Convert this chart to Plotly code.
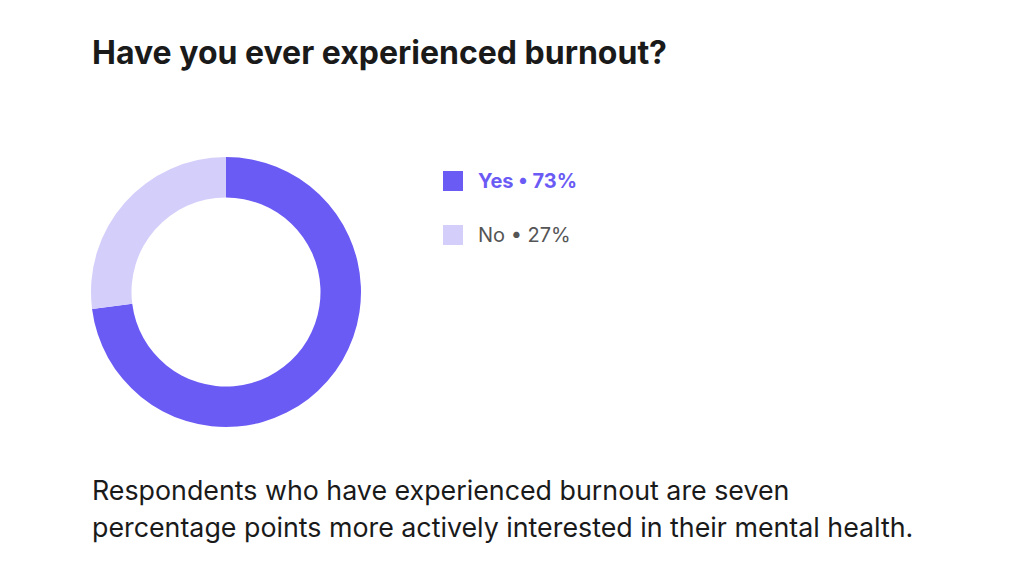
import plotly.graph_objects as go

# survey answers
labels = ["Yes", "No"]
shares = [73, 27]
colours = ["#6B5BF5", "#D4CEFB"]

title_text = "Have you ever experienced burnout?"
caption_lines = [
    "Respondents who have experienced burnout are seven",
    "percentage points more actively interested in their mental health.",
]

W, H = 1024, 586
OFF = 8  # page body margin, pulls everything back to the reference spot


def px(x):
    return (x - OFF) / W


def py(y):
    return (H - (y - OFF)) / H


fig = go.Figure(go.Pie(
    labels=labels,
    values=shares,
    hole=0.70,
    sort=False,
    direction="clockwise",
    rotation=0,
    marker=dict(colors=colours, line=dict(width=0)),
    textinfo="none",
    hoverinfo="label+percent",
    domain=dict(x=[px(91), px(361)], y=[py(427), py(157)]),
    showlegend=False,
))

# hand-made legend on the right of the ring
legend_top = [171, 225]
for i, (lab, val) in enumerate(zip(labels, shares)):
    y0 = legend_top[i]
    fig.add_shape(type="rect", xref="paper", yref="paper",
                  x0=px(443), x1=px(463), y0=py(y0 + 20), y1=py(y0),
                  fillcolor=colours[i], line=dict(width=0))
    txt = f"{lab} • {val}%"
    if i == 0:
        txt = f"<b>{txt}</b>"
        col = colours[0]
    else:
        col = "#555555"
    fig.add_annotation(x=px(476), y=py(y0 + 10), xref="paper", yref="paper",
                       text=txt, showarrow=False, xanchor="left", yanchor="middle",
                       font=dict(size=20, color=col, family="Inter"))

fig.add_annotation(x=px(90), y=py(52), xref="paper", yref="paper",
                   text=f"<b>{title_text}</b>", showarrow=False,
                   xanchor="left", yanchor="middle",
                   font=dict(size=32, color="#1a1a1a", family="Inter"))

for k, line in enumerate(caption_lines):
    fig.add_annotation(x=px(90), y=py(490 + 37 * k), xref="paper", yref="paper",
                       text=line, showarrow=False, xanchor="left", yanchor="middle",
                       font=dict(size=26.8, color="#1a1a1a", family="Inter"))

fig.update_layout(
    width=W, height=H,
    margin=dict(l=0, r=0, t=0, b=0),
    paper_bgcolor="white",
    plot_bgcolor="white",
    font=dict(family="Inter"),
)

fig.write_html("out.html")
